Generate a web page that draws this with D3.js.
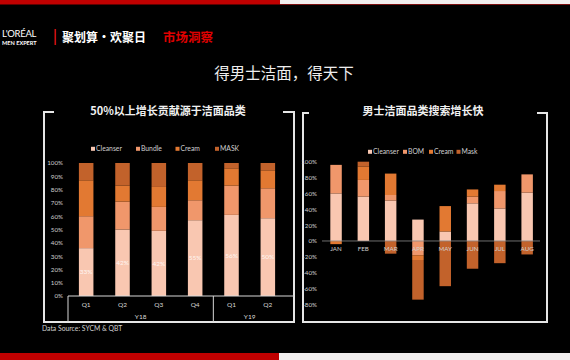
<!DOCTYPE html>
<html><head><meta charset="utf-8">
<script src="https://cdn.jsdelivr.net/npm/d3@7"></script>
<style>
html,body{margin:0;padding:0;background:#000;}
svg{display:block;}
text{font-family:Lato,"Noto Sans","Noto Sans CJK SC",sans-serif;}
.cjk{font-family:"Noto Sans CJK SC","Noto Sans",sans-serif;}
</style></head>
<body>
<script>
// ---------- data ----------
const mainTitle = "得男士洁面，得天下";
const leftTitle = "50%以上增长贡献源于洁面品类";
const rightTitle = "男士洁面品类搜索增长快";

const leftQuarters = ["Q1","Q2","Q3","Q4","Q1","Q2"];
const leftYears = ["Y18","Y19"];
const leftYearSpans = [4,2];
const leftSeriesNames = ["Cleanser","Bundle","Cream","MASK"];
const leftCleanser = [36, 50, 49, 57, 61, 58.5];
const leftBundle   = [24, 21, 18, 15, 22, 22.5];
const leftCream    = [27, 12, 15, 15, 13, 13.5];
const leftMask     = [13, 17, 18, 13, 4, 5.5];
const leftLabels   = ["33%","42%","42%","55%","56%","50%"];
const leftTicks    = [0,10,20,30,40,50,60,70,80,90,100];

const rightMonths = ["JAN","FEB","MAR","APR","MAY","JUN","JUL","AUG"];
const rightSeriesNames = ["Cleanser","BOM","Cream","Mask"];
const rightCleanser = [60, 56, 51, 27, 12, 47.5, 41, 61];
const rightBOM      = [36, 21, 7, -18, 0, 8.5, 22, 23];
const rightCream    = [-4, 17, 27, -6, 32, 9, 8, 0];
const rightMask     = [0, 6, -16, -50, -57, -35, -28, -17];
const rightTicks    = [-80,-60,-40,-20,0,20,40,60,80,100];

const colors = ["#f9c7b1","#f0976b","#e27932","#c2622b"];

// ---------- svg ----------
const W = 570, H = 360;
const svg = d3.select("body").append("svg").attr("width", W).attr("height", H);
svg.append("rect").attr("width", W).attr("height", H).attr("fill", "#000");

// top / bottom bars
svg.append("rect").attr("x",0).attr("y",0).attr("width",280).attr("height",4.5).attr("fill","#c00000");
svg.append("rect").attr("x",280).attr("y",0).attr("width",290).attr("height",4).attr("fill","#f1eeee");
svg.append("rect").attr("x",280).attr("y",4).attr("width",290).attr("height",1).attr("fill","#7a1010");
svg.append("rect").attr("x",0).attr("y",353).attr("width",279).attr("height",7).attr("fill","#c00000");
svg.append("rect").attr("x",279).attr("y",353).attr("width",291).attr("height",7).attr("fill","#f1eeee");

// header
svg.append("text").attr("x",2).attr("y",37).attr("fill","#fff").attr("font-size",9.5)
  .attr("letter-spacing",-0.3).text("L'ORÉAL");
svg.append("text").attr("x",2).attr("y",44.5).attr("fill","#fff").attr("font-size",5.6)
  .attr("font-weight","bold").text("MEN EXPERT");
svg.append("rect").attr("x",54.5).attr("y",29).attr("width",1.6).attr("height",16).attr("fill","#d01010");
svg.append("text").attr("class","cjk").attr("x",62).attr("y",41.5).attr("fill","#fff")
  .attr("font-size",12).attr("font-weight","bold").text("聚划算·欢聚日");
svg.append("text").attr("class","cjk").attr("x",163).attr("y",41.5).attr("fill","#e00000")
  .attr("font-size",12.5).attr("font-weight","bold").text("市场洞察");

// main title
svg.append("text").attr("class","cjk").attr("x",284).attr("y",79).attr("text-anchor","middle")
  .attr("fill","#eeeeee").attr("font-size",15.5).text(mainTitle);

// frames
function frame(x0, x1, y0, y1, b0, b1) {
  const p = `M${x0+b0},${y0} H${x0} V${y1} H${x1} V${y0} H${x1-b1}`;
  svg.append("path").attr("d", p).attr("fill","none").attr("stroke","#e6e6e6").attr("stroke-width",2);
}
frame(44, 294, 112, 322, 10, 11);
frame(303, 547, 113, 322, 6, 10);

// panel titles
svg.append("text").attr("class","cjk").attr("x",168).attr("y",115).attr("text-anchor","middle")
  .attr("fill","#f0f0f0").attr("font-size",11).attr("font-weight","bold").text(leftTitle);
svg.append("text").attr("class","cjk").attr("x",423).attr("y",114.5).attr("text-anchor","middle")
  .attr("fill","#f0f0f0").attr("font-size",11).attr("font-weight","bold").text(rightTitle);

// legend helper
function legend(items, xs, y) {
  items.forEach((name, i) => {
    svg.append("rect").attr("x", xs[i]).attr("y", y-2.2).attr("width",4).attr("height",4).attr("fill", colors[i]);
    svg.append("text").attr("x", xs[i]+5).attr("y", y+2.3).attr("fill","#cfcfcf").attr("font-size",6.8).text(name);
  });
}
legend(leftSeriesNames, [91, 136, 175.5, 215], 149);
legend(rightSeriesNames, [368, 403, 429, 456.5], 152);

// ---------- left chart ----------
const leftIdx = leftQuarters.map((d,i)=>i);
const xL = d3.scaleBand().domain(leftIdx).range([68, 286]).paddingInner(0.6).paddingOuter(0.3);
const yL = d3.scaleLinear().domain([0,100]).range([296,163]);
const leftRows = leftIdx.map(i => ({i, Cleanser:leftCleanser[i], Bundle:leftBundle[i], Cream:leftCream[i], MASK:leftMask[i]}));
const leftStack = d3.stack().keys(leftSeriesNames)(leftRows);

const gL = svg.append("g");
leftStack.forEach((s, k) => {
  gL.selectAll(null).data(s).enter().append("rect")
    .attr("x", d => xL(d.data.i)).attr("width", xL.bandwidth())
    .attr("y", d => yL(d[1])).attr("height", d => yL(d[0]) - yL(d[1]))
    .attr("fill", colors[k]);
});
gL.selectAll(null).data(leftStack[0]).enter().append("text")
  .attr("x", d => xL(d.data.i) + xL.bandwidth()/2).attr("y", d => yL((d[0]+d[1])/2) + 2.2)
  .attr("text-anchor","middle").attr("fill","rgba(255,255,255,0.85)").attr("font-size",6.5)
  .text((d,i) => leftLabels[i]);

const axL = svg.append("g").attr("transform","translate(63,0)")
  .call(d3.axisLeft(yL).tickValues(leftTicks).tickSize(0).tickPadding(0).tickFormat(d => d + "%"));
axL.select(".domain").remove();
axL.selectAll("text").attr("fill","#d0d0d0").attr("font-size",6.2).attr("font-family","Lato,sans-serif");

// category table
svg.append("line").attr("x1",68).attr("x2",294).attr("y1",296).attr("y2",296).attr("stroke","#d8d8d8").attr("stroke-width",1);
svg.append("line").attr("x1",68).attr("x2",68).attr("y1",296).attr("y2",322).attr("stroke","#d8d8d8").attr("stroke-width",1);
const dividerX = xL(4) - (xL.step()-xL.bandwidth())/2;
svg.append("line").attr("x1",dividerX).attr("x2",dividerX).attr("y1",296).attr("y2",322).attr("stroke","#d8d8d8").attr("stroke-width",1);
svg.selectAll(null).data(leftIdx).enter().append("text")
  .attr("x", i => xL(i) + xL.bandwidth()/2).attr("y", 306.5).attr("text-anchor","middle")
  .attr("fill","#d8d8d8").attr("font-size",6.5).text(i => leftQuarters[i]);
let startIdx = 0;
leftYears.forEach((yr, j) => {
  const a = xL(startIdx) + xL.bandwidth()/2, b = xL(startIdx + leftYearSpans[j]-1) + xL.bandwidth()/2;
  svg.append("text").attr("x",(a+b)/2).attr("y",318.5).attr("text-anchor","middle")
    .attr("fill","#d8d8d8").attr("font-size",6.5).text(yr);
  startIdx += leftYearSpans[j];
});

// ---------- right chart ----------
const xR = d3.scaleBand().domain(rightMonths).range([322.4, 540.8]).paddingInner(0.58).paddingOuter(0.29);
const yR = d3.scaleLinear().domain([-80,100]).range([304.4,161.7]);
const rightRows = rightMonths.map((m,i) => ({m, Cleanser:rightCleanser[i], BOM:rightBOM[i], Cream:rightCream[i], Mask:rightMask[i]}));
const rightStack = d3.stack().keys(rightSeriesNames).offset(d3.stackOffsetDiverging)(rightRows);

const gR = svg.append("g");
rightStack.forEach((s, k) => {
  gR.selectAll(null).data(s.filter(d => d[1] !== d[0])).enter().append("rect")
    .attr("x", d => xR(d.data.m)).attr("width", xR.bandwidth())
    .attr("y", d => yR(Math.max(d[0],d[1]))).attr("height", d => Math.abs(yR(d[0]) - yR(d[1])))
    .attr("fill", colors[k]);
});
svg.append("line").attr("x1",322).attr("x2",540).attr("y1",yR(0)).attr("y2",yR(0)).attr("stroke","#8a8a8a").attr("stroke-width",0.8);

const axR = svg.append("g").attr("transform","translate(317,0)")
  .call(d3.axisLeft(yR).tickValues(rightTicks).tickSize(0).tickPadding(0).tickFormat(d => d + "%"));
axR.select(".domain").remove();
axR.selectAll("text").attr("fill","#d0d0d0").attr("font-size",6.2).attr("font-family","Lato,sans-serif");

svg.selectAll(null).data(rightMonths).enter().append("text")
  .attr("x", m => xR(m) + xR.bandwidth()/2).attr("y", 251).attr("text-anchor","middle")
  .attr("fill","#d0d0d0").attr("font-size",6.2).text(m => m);

// source
svg.append("text").attr("x",42).attr("y",330.5).attr("fill","#d0d0d0").attr("font-size",6.8).text("Data Source: SYCM & QBT");
</script>
</body></html>
